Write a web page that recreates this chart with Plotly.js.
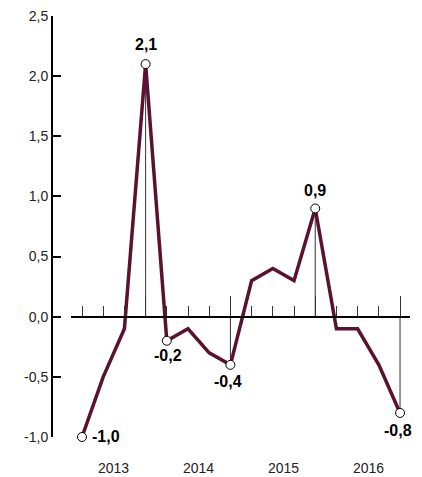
<!DOCTYPE html>
<html>
<head>
<meta charset="utf-8">
<script src="https://cdn.plot.ly/plotly-3.0.1.min.js"></script>
<style>html,body{margin:0;padding:0;background:#fff}#chart{width:422px;height:477px}</style>
</head>
<body>
<div id="chart"></div>
<script>
// ---- data ----
const quarters = ['2013Q1','2013Q2','2013Q3','2013Q4','2014Q1','2014Q2','2014Q3','2014Q4',
                  '2015Q1','2015Q2','2015Q3','2015Q4','2016Q1','2016Q2','2016Q3','2016Q4'];
const values = [-1.0, -0.5, -0.1, 2.1, -0.2, -0.1, -0.3, -0.4, 0.3, 0.4, 0.3, 0.9, -0.1, -0.1, -0.4, -0.8];
const pointLabels = ['-1,0','','','2,1','-0,2','','','-0,4','','','','0,9','','','','-0,8'];
const years = ['2013','2014','2015','2016'];
const yTickVals = [-1.0, -0.5, 0.0, 0.5, 1.0, 1.5, 2.0, 2.5];
const yTickText = ['-1,0','-0,5','0,0','0,5','1,0','1,5','2,0','2,5'];

// ---- derived ----
const xi = quarters.map((q, i) => i);
const q4 = xi.filter(i => quarters[i].endsWith('Q4'));
const labIdx = xi.filter(i => pointLabels[i] !== '');
// label placement offsets (px)
const offs = {'-1,0': {xa: 'left', dx: 8, dy: 1}, '2,1': {xa: 'center', dx: 0, dy: 20},
              '-0,2': {xa: 'center', dx: 1, dy: -15}, '-0,4': {xa: 'center', dx: -2, dy: -17},
              '0,9': {xa: 'center', dx: 0, dy: 18}, '-0,8': {xa: 'center', dx: -2, dy: -18}};

const dropX = [], dropY = [];
q4.forEach(i => { dropX.push(i, i, null); dropY.push(0, values[i], null); });

const font = 'Liberation Sans, Arial, sans-serif';
const traces = [
  {x: dropX, y: dropY, mode: 'lines', line: {color: '#333', width: 1}, hoverinfo: 'skip', cliponaxis: false},
  {x: xi, y: values, mode: 'lines', line: {color: '#5a1232', width: 3.5}, cliponaxis: false},
  {x: labIdx, y: labIdx.map(i => values[i]), mode: 'markers',
   marker: {size: 9, color: '#fff', line: {color: '#000', width: 1}}, cliponaxis: false}
];

const yearAnn = years.map((y) => {
  const idx = xi.filter(i => quarters[i].startsWith(y));
  return {x: (idx[0] + idx[idx.length - 1]) / 2, xref: 'x', y: 0, yref: 'paper', yanchor: 'middle',
          yshift: -31, text: y, showarrow: false, font: {family: font, size: 14, color: '#222'}};
});
const valAnn = labIdx.map(i => {
  const o = offs[pointLabels[i]];
  return {x: i, y: values[i], xref: 'x', yref: 'y', text: pointLabels[i], showarrow: false,
          xanchor: o.xa, yanchor: 'middle', xshift: o.dx, yshift: o.dy,
          font: {family: font, size: 16, color: '#000', weight: 'bold'}};
});

const layout = {
  width: 422, height: 477,
  margin: {l: 52, r: 12, t: 16, b: 40},
  paper_bgcolor: '#fff', plot_bgcolor: '#fff',
  showlegend: false,
  font: {family: font, size: 14, color: '#222'},
  xaxis: {
    domain: [19 / 358, 1], range: [-0.519, 15.47], anchor: 'free', position: 1 / 3.5,
    showgrid: false, zeroline: false, showline: true, linecolor: '#000', linewidth: 2,
    tickmode: 'array', tickvals: q4, ticks: 'inside', ticklen: 20, tickwidth: 1, tickcolor: '#333',
    showticklabels: false,
    minor: {tickmode: 'array', tickvals: xi, ticks: 'inside', ticklen: 10, tickwidth: 1, tickcolor: '#333', showgrid: false}
  },
  yaxis: {
    range: [-1, 2.5], anchor: 'free', position: 0,
    showgrid: false, zeroline: false, showline: true, linecolor: '#000', linewidth: 2,
    tickmode: 'array', tickvals: yTickVals, ticktext: yTickText,
    ticks: 'inside', ticklen: 8, tickwidth: 2, tickcolor: '#000',
    tickfont: {family: font, size: 14, color: '#222'}
  },
  annotations: yearAnn.concat(valAnn)
};

Plotly.newPlot('chart', traces, layout, {staticPlot: true, displayModeBar: false});
</script>
</body>
</html>
